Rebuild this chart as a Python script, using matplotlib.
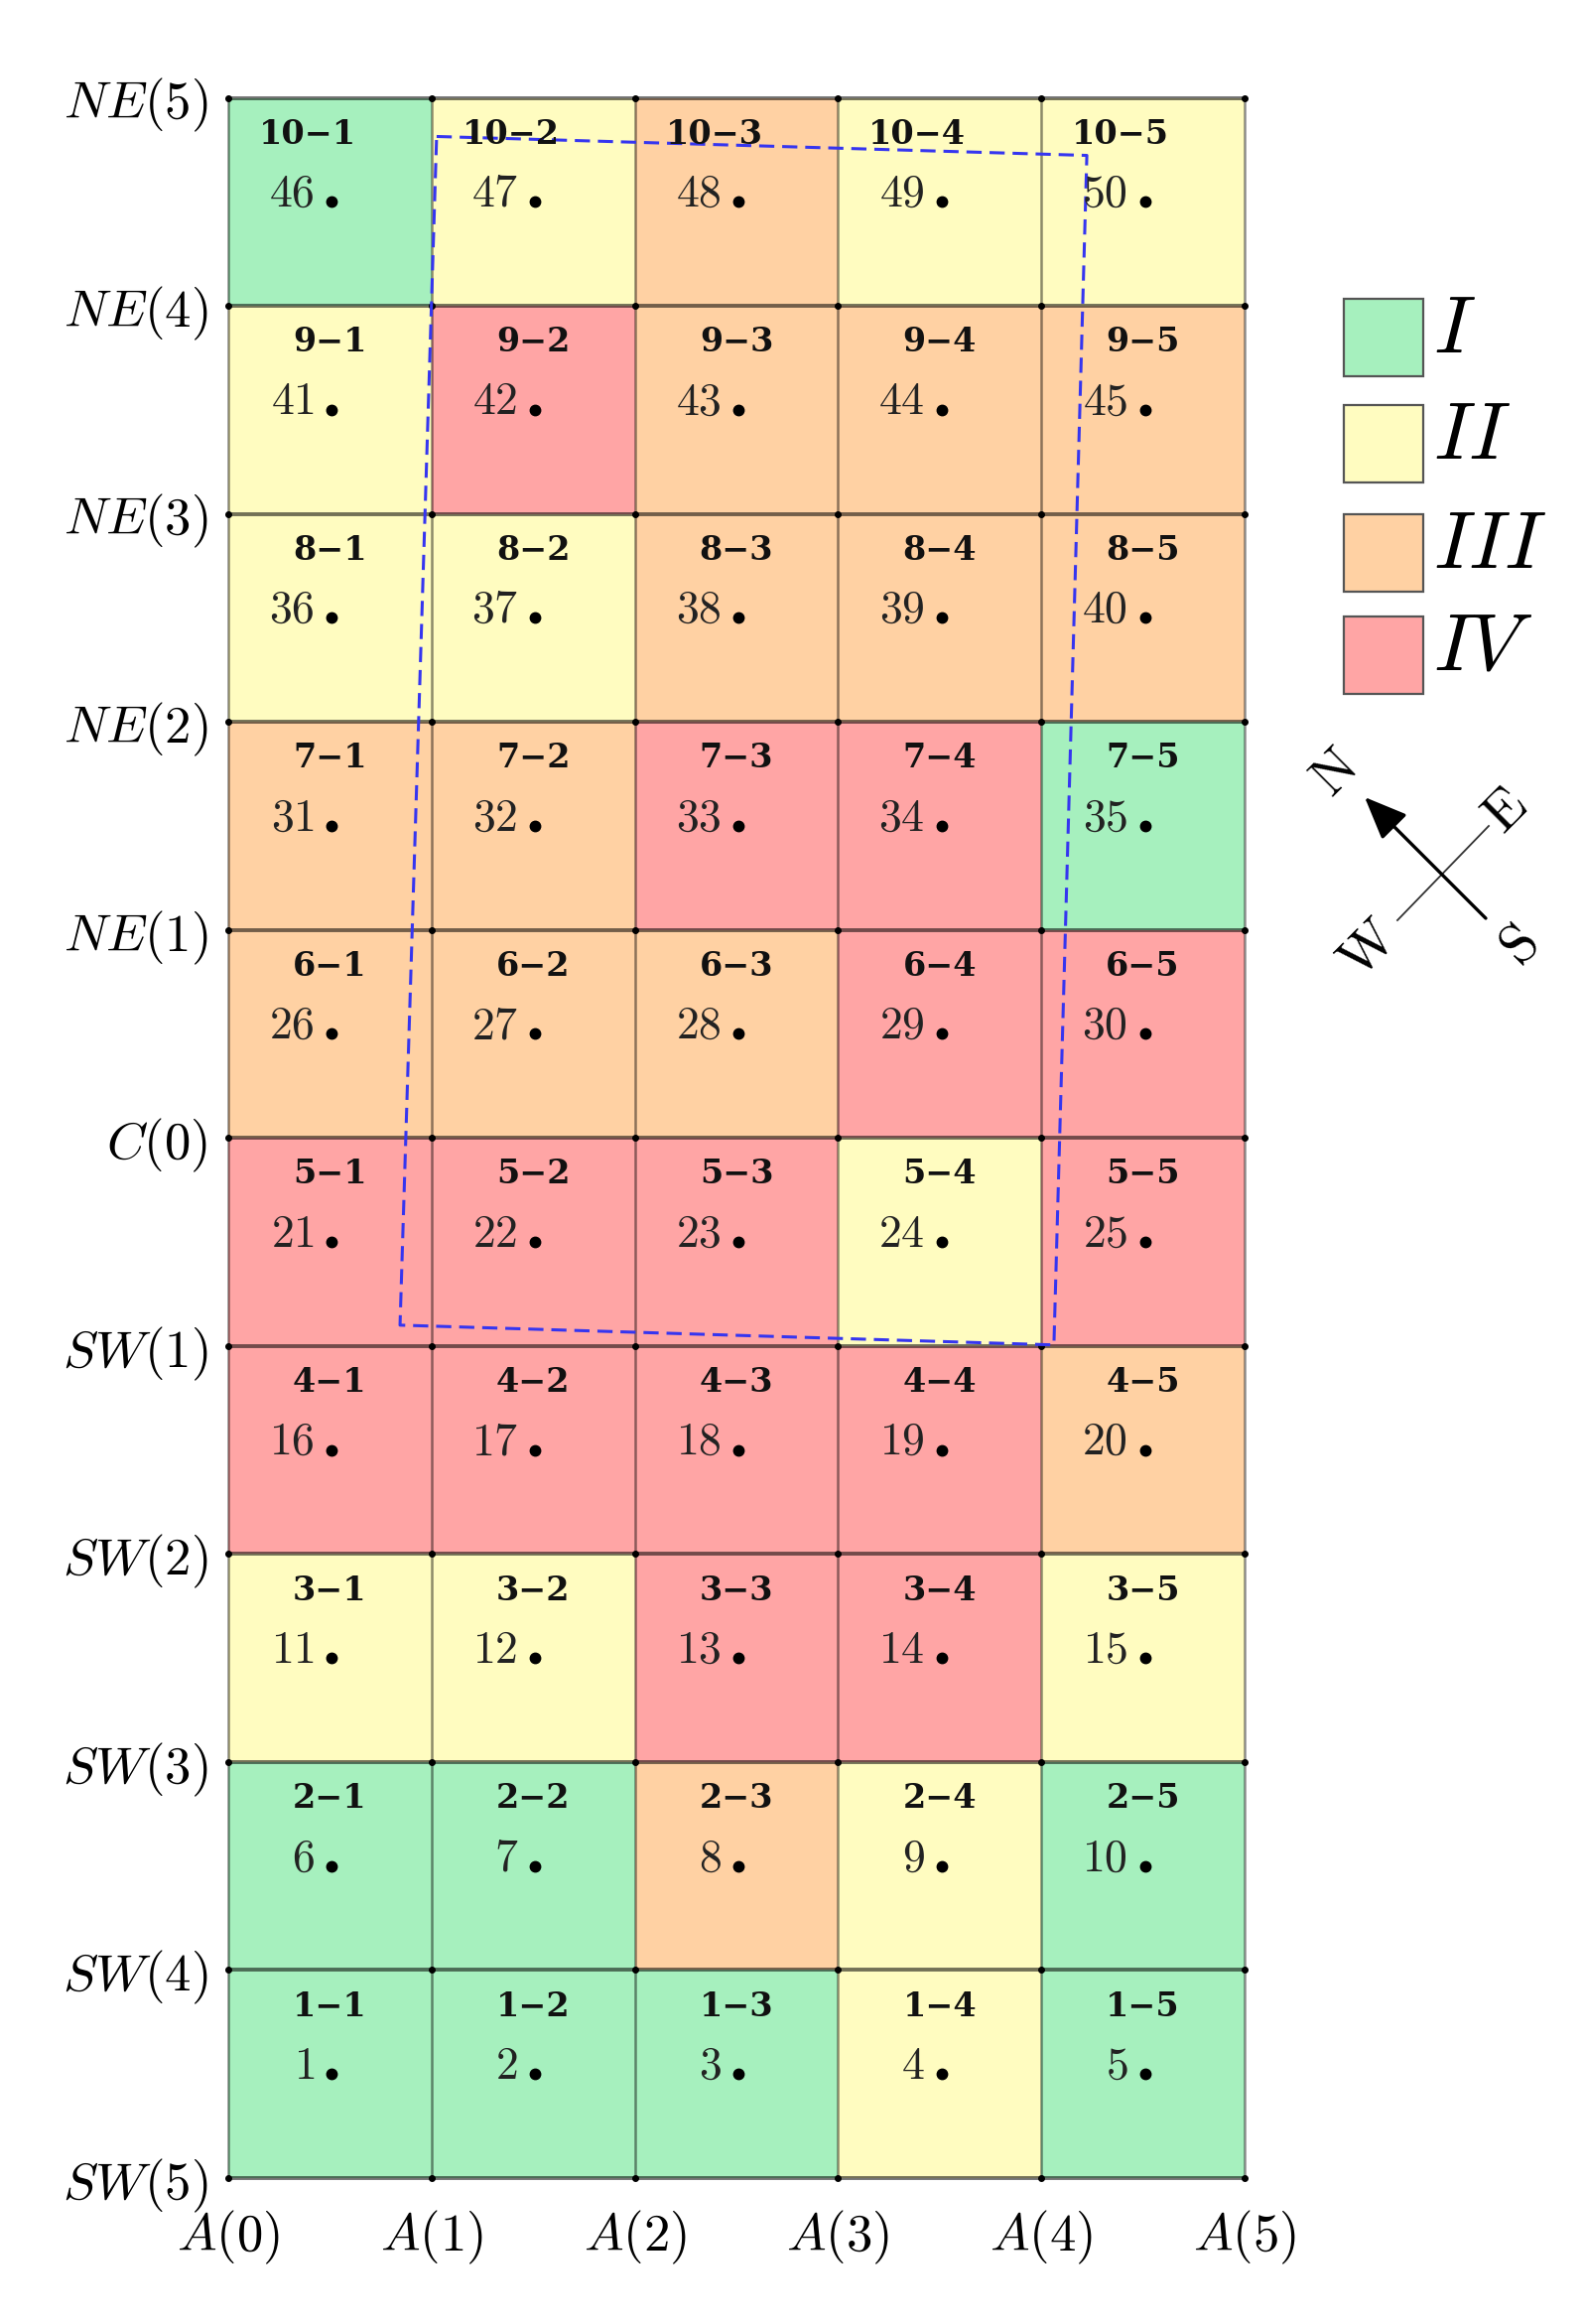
import matplotlib
matplotlib.use('Agg')
import matplotlib.pyplot as plt
from matplotlib.patches import Rectangle
import numpy as np

plt.rcParams['mathtext.fontset'] = 'cm'
plt.rcParams['font.family'] = ['DejaVu Serif']

# ---------------- data ----------------
row_tick_labels = ['SW(5)', 'SW(4)', 'SW(3)', 'SW(2)', 'SW(1)', 'C(0)',
                   'NE(1)', 'NE(2)', 'NE(3)', 'NE(4)', 'NE(5)']
col_tick_labels = ['A(0)', 'A(1)', 'A(2)', 'A(3)', 'A(4)', 'A(5)']
# class of each cell, row 1 (bottom) to row 10 (top), columns 1..5
cell_classes = [
    ['I',   'I',   'I',   'II',  'I'],
    ['I',   'I',   'III', 'II',  'I'],
    ['II',  'II',  'IV',  'IV',  'II'],
    ['IV',  'IV',  'IV',  'IV',  'III'],
    ['IV',  'IV',  'IV',  'II',  'IV'],
    ['III', 'III', 'III', 'IV',  'IV'],
    ['III', 'III', 'IV',  'IV',  'I'],
    ['II',  'II',  'III', 'III', 'III'],
    ['II',  'IV',  'III', 'III', 'III'],
    ['I',   'II',  'III', 'II',  'II'],
]
class_names = ['I', 'II', 'III', 'IV']
class_colors = ['#a6f0be', '#fffcc0', '#ffd1a3', '#ffa5a5']
# dashed boundary (grid units)
boundary_x = [1.025, 4.224, 4.062, 0.845, 1.025]
boundary_y = [9.814, 9.723, 4.005, 4.100, 9.814]
# compass (pixel coords of overlay)
compass_ns = [(1497, 925), (1375, 803)]
compass_we = [(1408, 927), (1500, 832)]
compass_letters = ['N', 'E', 'W', 'S']
compass_letter_pos = [(1346, 779), (1517, 817), (1378, 956), (1532, 953)]

color_of = dict(zip(class_names, class_colors))

# ---------------- figure ----------------
W, H = 1597, 2341
fig = plt.figure(figsize=(W / 100, H / 100), dpi=100)
fig.patch.set_facecolor('white')

gx0, gx1, gy0, gy1 = 230, 1254, 98.5, 2194
ax = fig.add_axes([gx0 / W, 1 - gy1 / H, (gx1 - gx0) / W, (gy1 - gy0) / H])
nrows = len(cell_classes)
ncols = len(cell_classes[0])
ax.set_xlim(0, ncols)
ax.set_ylim(0, nrows)

for r, row in enumerate(cell_classes):
    for c, cls in enumerate(row):
        ax.add_patch(Rectangle((c, r), 1, 1, facecolor=color_of[cls],
                               edgecolor='none', zorder=1))
        n = r * ncols + c + 1
        lx = c + (0.39 if r == nrows - 1 else 0.5)
        ax.text(lx, r + 0.825, '%d\u2212%d' % (r + 1, c + 1),
                ha='center', va='center', fontsize=24, fontweight='bold',
                family='DejaVu Serif', color='#111111', zorder=5)
        ax.text(c + 0.425, r + 0.478, r'$%d$' % n, ha='right',
                va='baseline', fontsize=33, color='#222222', zorder=5)
        ax.plot(c + 0.51, r + 0.5, 'o', ms=7.5, color='black', zorder=5)

hl = ax.hlines(range(nrows + 1), 0, ncols, colors='black', alpha=0.55,
               lw=2.8, zorder=2)
vl = ax.vlines(range(ncols + 1), 0, nrows, colors='black', alpha=0.45,
               lw=1.8, zorder=2)
hl.set_clip_on(False)
vl.set_clip_on(False)
X, Y = np.meshgrid(range(ncols + 1), range(nrows + 1))
ax.plot(X.ravel(), Y.ravel(), 'o', ms=4, color='black', clip_on=False,
        zorder=3)

ax.plot(boundary_x, boundary_y, color='#3535f0', lw=2.2,
        dashes=(5.0, 2.6), zorder=4, clip_on=False)

ax.set_yticks(range(nrows + 1))
ax.set_yticklabels([r'$%s$' % l for l in row_tick_labels], fontsize=38)
ax.set_xticks(range(ncols + 1))
ax.set_xticklabels([r'$%s$' % l for l in col_tick_labels], fontsize=38)
ax.tick_params(axis='y', length=0, pad=15)
ax.tick_params(axis='x', length=0, pad=22)
for sp in ax.spines.values():
    sp.set_visible(False)

# ---------------- overlay for legend + compass ----------------
ov = fig.add_axes([0, 0, 1, 1])
ov.set_xlim(0, W)
ov.set_ylim(H, 0)
ov.axis('off')
ov.patch.set_alpha(0)

tops = [301, 408, 518, 621]
for name, col, t in zip(class_names, class_colors, tops):
    ov.add_patch(Rectangle((1354, t), 80, 78, facecolor=col,
                           edgecolor='#555555', lw=1.6))
    ov.text(1444, t + 39 - 8, r'$%s$' % name, fontsize=59, ha='left',
            va='center')

ov.plot([p[0] for p in compass_we], [p[1] for p in compass_we],
        color='#333333', lw=1.3)
ov.annotate('', xy=compass_ns[1], xytext=compass_ns[0],
            arrowprops=dict(arrowstyle='-|>,head_length=1.2,head_width=0.5',
                            mutation_scale=22, lw=2.4, color='black',
                            shrinkA=0, shrinkB=0))
for lt, (px, py) in zip(compass_letters, compass_letter_pos):
    ov.text(px, py, r'$\mathrm{%s}$' % lt, rotation=45, ha='center',
            va='center', fontsize=40, rotation_mode='anchor')

fig.savefig('out.png', dpi=100, facecolor='white')
